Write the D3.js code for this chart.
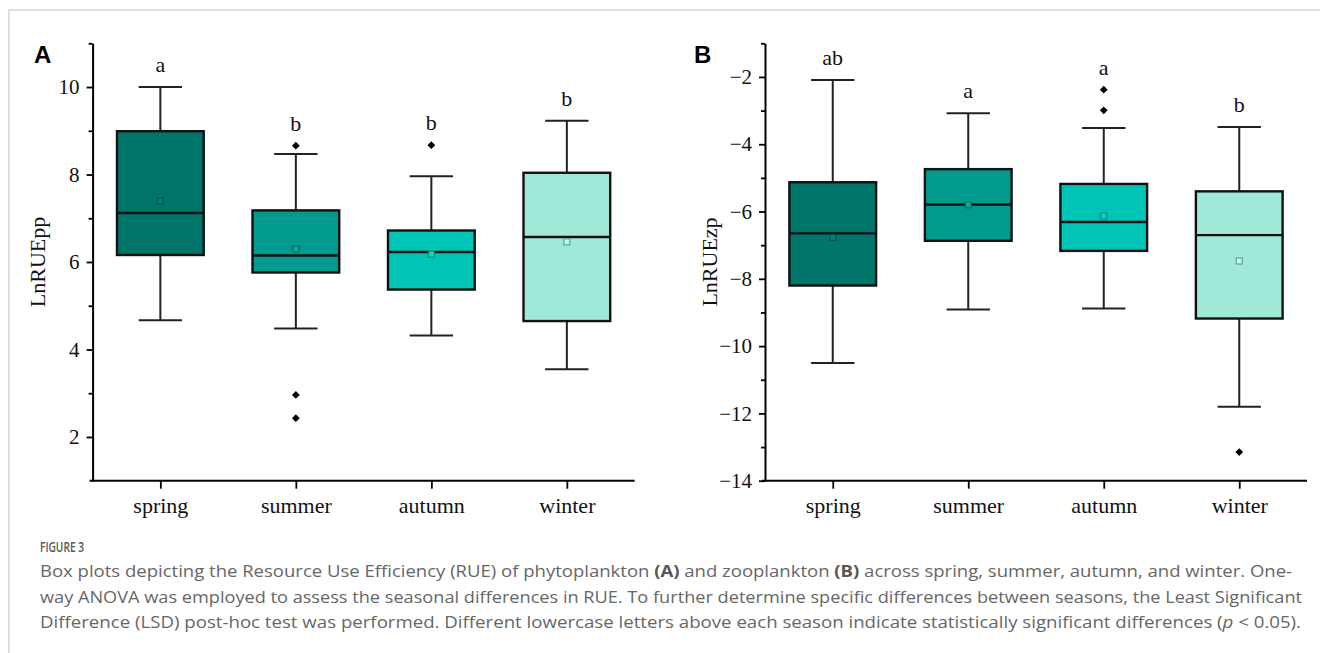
<!DOCTYPE html>
<html>
<head>
<meta charset="utf-8">
<script src="https://cdn.jsdelivr.net/npm/d3@7"></script>
<style>
  html, body { margin: 0; padding: 0; background: #fff; }
  svg { display: block; }
</style>
</head>
<body>
<svg id="fig" width="1320" height="653"></svg>
<script>
// Seasons shared by both panels
const seasons = ["spring", "summer", "autumn", "winter"];
const boxFills = ["#00766b", "#009b8e", "#00c5b6", "#a0e8d8"];

// Panel A: LnRUEpp (phytoplankton)
const ppWhiskerLow  = [4.67, 4.48, 4.32, 3.55];
const ppQ1          = [6.16, 5.76, 5.37, 4.65];
const ppMedian      = [7.12, 6.15, 6.23, 6.57];
const ppQ3          = [8.99, 7.18, 6.72, 8.04];
const ppWhiskerHigh = [10.0, 8.47, 7.96, 9.23];
const ppMean        = [7.39, 6.30, 6.18, 6.46];
const ppOutliers    = [[], [8.66, 2.96, 2.43], [8.67], []];
const ppLetters     = ["a", "b", "b", "b"];
const ppTicks       = [2, 4, 6, 8, 10];
const ppMinorTicks  = [3, 5, 7, 9, 11];

// Panel B: LnRUEzp (zooplankton)
const zpWhiskerLow  = [-10.50, -8.91, -8.88, -11.80];
const zpQ1          = [-8.20, -6.87, -7.17, -9.18];
const zpMedian      = [-6.65, -5.79, -6.31, -6.70];
const zpQ3          = [-5.13, -4.74, -5.18, -5.40];
const zpWhiskerHigh = [-2.09, -3.08, -3.52, -3.49];
const zpMean        = [-6.77, -5.80, -6.13, -7.47];
const zpOutliers    = [[], [], [-2.38, -2.99], [-13.15]];
const zpLetters     = ["ab", "a", "a", "b"];
const zpTicks       = [-14, -12, -10, -8, -6, -4, -2];
const zpMinorTicks  = [-13, -11, -9, -7, -5, -3, -1];

const svg = d3.select("#fig");
const serif = "'Liberation Serif', 'Times New Roman', serif";

// Page frame
svg.append("path")
  .attr("d", "M9,660 L9,10 L1330,10")
  .attr("fill", "none")
  .attr("stroke", "#d4d4d4")
  .attr("stroke-width", 1.5);

function boxPanel(cfg) {
  const g = svg.append("g");
  const y = d3.scaleLinear().domain(cfg.domain).range([480.7, 43.3]);
  const x = d3.scalePoint().domain(seasons).range([cfg.left, cfg.left + 542]).padding(0.5);
  const step = x.step();
  const boxW = step * 0.64;
  const capW = boxW * 0.5;

  const rows = seasons.map((s, i) => ({
    season: s, fill: boxFills[i],
    lo: cfg.lo[i], q1: cfg.q1[i], med: cfg.med[i], q3: cfg.q3[i], hi: cfg.hi[i],
    mean: cfg.mean[i], out: cfg.out[i], letter: cfg.letters[i]
  }));

  // Y axis: major ticks with labels, minor ticks without
  const yAxis = g.append("g")
    .attr("transform", `translate(${cfg.left},0)`)
    .call(d3.axisLeft(y).tickValues(cfg.ticks).tickSize(6).tickSizeOuter(0).tickPadding(7));
  yAxis.select(".domain").attr("stroke-width", 2);
  yAxis.selectAll(".tick line").attr("stroke-width", 1.8);
  yAxis.selectAll(".tick text").attr("font-family", serif).attr("font-size", 21).attr("fill", "#111");

  const yMinor = g.append("g")
    .attr("transform", `translate(${cfg.left},0)`)
    .call(d3.axisLeft(y).tickValues(cfg.minor).tickSize(4).tickFormat(""));
  yMinor.select(".domain").remove();
  yMinor.selectAll(".tick line").attr("stroke-width", 1.8);

  // X axis
  const xAxis = g.append("g")
    .attr("transform", `translate(0,${y.range()[0]})`)
    .call(d3.axisBottom(x).tickSize(8).tickSizeOuter(0).tickPadding(9));
  xAxis.select(".domain").attr("stroke-width", 2).attr("d", `M${cfg.left - 3},0H${cfg.left + 542}`);
  xAxis.selectAll(".tick line").attr("stroke-width", 1.8);
  xAxis.selectAll(".tick text").attr("font-family", serif).attr("font-size", 22).attr("fill", "#111");

  // Y axis title
  g.append("text")
    .attr("transform", `translate(${cfg.left - 48},${(y.range()[0] + y.range()[1]) / 2}) rotate(-90)`)
    .attr("text-anchor", "middle")
    .attr("font-family", serif).attr("font-size", 22).attr("fill", "#111")
    .text(cfg.title);

  // Panel tag
  g.append("text")
    .attr("x", cfg.tagX).attr("y", 63)
    .attr("font-family", "'Liberation Sans', Arial, sans-serif")
    .attr("font-weight", "bold").attr("font-size", 24).attr("fill", "#000")
    .text(cfg.tag);

  const box = g.selectAll(".box").data(rows).join("g").attr("class", "box");

  // Whiskers
  box.append("line")
    .attr("x1", d => x(d.season)).attr("x2", d => x(d.season))
    .attr("y1", d => y(d.hi)).attr("y2", d => y(d.q3))
    .attr("stroke", "#222").attr("stroke-width", 2);
  box.append("line")
    .attr("x1", d => x(d.season)).attr("x2", d => x(d.season))
    .attr("y1", d => y(d.q1)).attr("y2", d => y(d.lo))
    .attr("stroke", "#222").attr("stroke-width", 2);
  box.selectAll(".cap").data(d => [d.hi, d.lo].map(v => ({ v, s: d.season }))).join("line")
    .attr("class", "cap")
    .attr("x1", d => x(d.s) - capW / 2).attr("x2", d => x(d.s) + capW / 2)
    .attr("y1", d => y(d.v)).attr("y2", d => y(d.v))
    .attr("stroke", "#222").attr("stroke-width", 2);

  // Interquartile boxes
  box.append("rect")
    .attr("x", d => x(d.season) - boxW / 2)
    .attr("y", d => y(d.q3))
    .attr("width", boxW)
    .attr("height", d => y(d.q1) - y(d.q3))
    .attr("fill", d => d.fill)
    .attr("stroke", "#111").attr("stroke-width", 2.4);

  // Medians
  box.append("line")
    .attr("x1", d => x(d.season) - boxW / 2).attr("x2", d => x(d.season) + boxW / 2)
    .attr("y1", d => y(d.med)).attr("y2", d => y(d.med))
    .attr("stroke", "#111").attr("stroke-width", 2.4);

  // Means
  box.append("rect")
    .attr("x", d => x(d.season) - 3).attr("y", d => y(d.mean) - 3)
    .attr("width", 6).attr("height", 6)
    .attr("fill", d => d3.color(d.fill).brighter(0.3))
    .attr("stroke", d => d3.color(d.fill).darker(1.1))
    .attr("stroke-width", 1.2);

  // Outliers
  const diamond = d3.symbol().type(d3.symbolSquare).size(30);
  box.selectAll(".out").data(d => d.out.map(v => ({ v, s: d.season }))).join("path")
    .attr("class", "out")
    .attr("d", diamond)
    .attr("transform", d => `translate(${x(d.s)},${y(d.v)}) rotate(45)`)
    .attr("fill", "#000");

  // Significance letters above the highest point of each season
  box.append("text")
    .attr("x", d => x(d.season))
    .attr("y", d => y(d3.max([d.hi, ...d.out])) - 15)
    .attr("text-anchor", "middle")
    .attr("font-family", serif).attr("font-size", 22).attr("fill", "#111")
    .text(d => d.letter);
}

boxPanel({
  left: 92.6, domain: [1, 11], ticks: ppTicks, minor: ppMinorTicks,
  lo: ppWhiskerLow, q1: ppQ1, med: ppMedian, q3: ppQ3, hi: ppWhiskerHigh,
  mean: ppMean, out: ppOutliers, letters: ppLetters,
  title: "LnRUEpp", tag: "A", tagX: 34
});

boxPanel({
  left: 765, domain: [-14, -1], ticks: zpTicks, minor: zpMinorTicks,
  lo: zpWhiskerLow, q1: zpQ1, med: zpMedian, q3: zpQ3, hi: zpWhiskerHigh,
  mean: zpMean, out: zpOutliers, letters: zpLetters,
  title: "LnRUEzp", tag: "B", tagX: 694
});

// Figure caption
const capFont = "'Open Sans', 'Noto Sans', sans-serif";
svg.append("text")
  .attr("x", 40).attr("y", 552)
  .attr("font-family", capFont).attr("font-size", 13.5).attr("font-weight", 600)
  .attr("fill", "#555")
  .attr("textLength", 44)
  .attr("lengthAdjust", "spacingAndGlyphs")
  .text("FIGURE 3");

const captionLines = [
  [["Box plots depicting the Resource Use Efficiency (RUE) of phytoplankton ", ""], ["(A)", "b"], [" and zooplankton ", ""], ["(B)", "b"], [" across spring, summer, autumn, and winter. One-", ""]],
  [["way ANOVA was employed to assess the seasonal differences in RUE. To further determine specific differences between seasons, the Least Significant", ""]],
  [["Difference (LSD) post-hoc test was performed. Different lowercase letters above each season indicate statistically significant differences (", ""], ["p", "i"], [" < 0.05).", ""]]
];
const captionWidths = [1252, 1262, 1261];

captionLines.forEach((parts, i) => {
  const t = svg.append("text")
    .attr("x", 40).attr("y", 577 + i * 25.5)
    .attr("font-family", capFont).attr("font-size", 16)
    .attr("fill", "#666")
    .attr("textLength", captionWidths[i])
    .attr("lengthAdjust", "spacingAndGlyphs");
  parts.forEach(([s, style]) => {
    const sp = t.append("tspan").text(s);
    if (style === "b") sp.attr("font-weight", 700).attr("fill", "#555");
    if (style === "i") sp.attr("font-style", "italic");
  });
});
</script>
</body>
</html>
